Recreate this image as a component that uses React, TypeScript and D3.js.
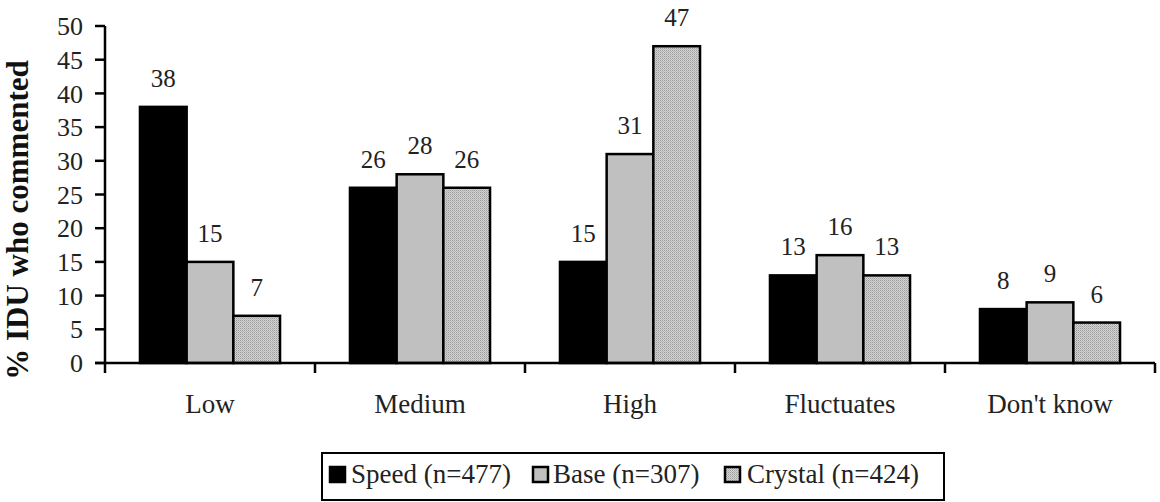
import React from "react";
import * as d3 from "d3";

const categories = ["Low", "Medium", "High", "Fluctuates", "Don't know"];
const seriesNames = ["Speed (n=477)", "Base (n=307)", "Crystal (n=424)"];
const speed = [38, 26, 15, 13, 8];
const base = [15, 28, 31, 16, 9];
const crystal = [7, 26, 47, 13, 6];
const yTicks = [0, 5, 10, 15, 20, 25, 30, 35, 40, 45, 50];

const W = 1160;
const H = 502;
const FONT = "Liberation Serif";

export default function App() {
  const x0 = 105;
  const x1 = 1155;
  const yBottom = 363;
  const yTop = 26;
  const x = d3.scaleBand<string>().domain(categories).range([x0, x1]);
  const y = d3.scaleLinear().domain([0, 50]).range([yBottom, yTop]);
  const groupW = x.bandwidth() * 0.667;
  const xs = d3.scaleBand<number>().domain([0, 1, 2]).range([0, groupW]);
  const series = [speed, base, crystal];
  const fills = ["#000000", "#c0c0c0", "url(#crystalPat)"];
  const legendSw = [330, 533, 725];
  const legendTx = [351, 553, 747];

  return (
    <svg width={W} height={H} style={{ position: "absolute", left: 0, top: 0, background: "#fff" }}>
      <style>{`text { font-family: "Liberation Serif", "Times New Roman", Times, serif; }`}</style>
      <defs>
        <pattern id="crystalPat" width="2" height="2" patternUnits="userSpaceOnUse">
          <rect width="2" height="2" fill="#d6d6d6" />
          <rect width="1" height="1" fill="#999999" />
          <rect x="1" y="1" width="1" height="1" fill="#b4b4b4" />
        </pattern>
      </defs>
      {categories.map((c, i) => {
        const gx = (x(c) as number) + (x.bandwidth() - groupW) / 2;
        return (
          <g key={c}>
            {series.map((s, j) => {
              const bx = gx + (xs(j) as number);
              const v = s[i];
              return (
                <g key={j}>
                  <rect x={bx} y={y(v)} width={xs.bandwidth()} height={yBottom - y(v)} fill={fills[j]} stroke="#000" strokeWidth={2.5} />
                  <text x={bx + xs.bandwidth() / 2} y={y(v) - 20} textAnchor="middle" fontSize={25} fontFamily={FONT} fill="#222">{v}</text>
                </g>
              );
            })}
          </g>
        );
      })}
      <line x1={x0} x2={x0} y1={yTop} y2={yBottom} stroke="#000" strokeWidth={2.5} />
      {yTicks.map((t) => (
        <g key={t}>
          <line x1={x0 - 10} x2={x0} y1={y(t)} y2={y(t)} stroke="#000" strokeWidth={2.5} />
          <text x={83} y={y(t)} dy="0.35em" textAnchor="end" fontSize={26} fontFamily={FONT} fill="#222">{t}</text>
        </g>
      ))}
      <line x1={x0 - 10} x2={x1} y1={yBottom} y2={yBottom} stroke="#000" strokeWidth={2.5} />
      {categories.map((c) => (
        <line key={"t" + c} x1={x(c) as number} x2={x(c) as number} y1={yBottom} y2={yBottom + 10} stroke="#000" strokeWidth={2.5} />
      ))}
      <line x1={x1} x2={x1} y1={yBottom} y2={yBottom + 10} stroke="#000" strokeWidth={2.5} />
      {categories.map((c) => (
        <text key={"l" + c} x={(x(c) as number) + x.bandwidth() / 2} y={413} textAnchor="middle" fontSize={27} fontFamily={FONT} fill="#222">{c}</text>
      ))}
      <text transform={`translate(28, 220) rotate(-90)`} textAnchor="middle" fontSize={31} fontWeight="bold" fontFamily={FONT} fill="#111">% IDU who commented</text>
      <rect x={322} y={453} width={622} height={47} fill="#fff" stroke="#000" strokeWidth={2} />
      {seriesNames.map((label, k) => (
        <g key={k}>
          <rect x={legendSw[k]} y={467} width={15} height={15} fill={fills[k]} stroke="#000" strokeWidth={2.5} />
          <text x={legendTx[k]} y={483} fontSize={27} fontFamily={FONT} fill="#222">{label}</text>
        </g>
      ))}
    </svg>
  );
}
